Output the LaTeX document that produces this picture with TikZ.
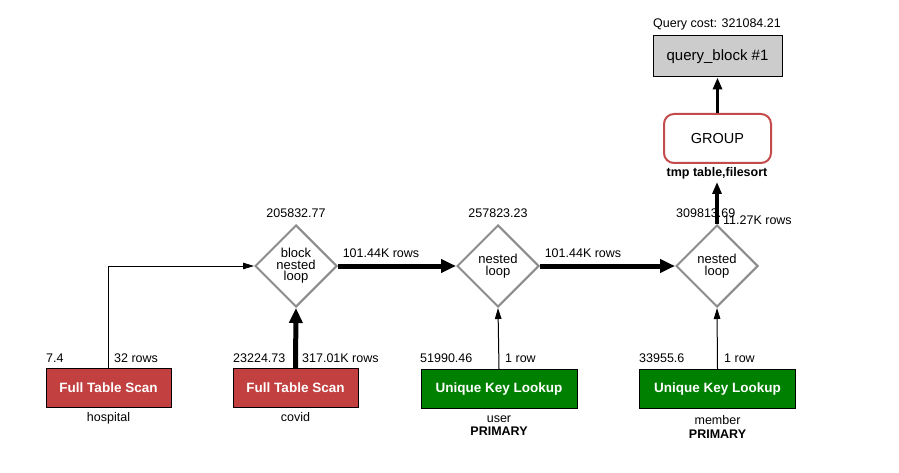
\documentclass[tikz,border=0pt]{standalone}
\usepackage{fontspec}
\setmainfont{Liberation Sans}
\usetikzlibrary{shapes.geometric,arrows.meta}
\definecolor{scanred}{HTML}{C24040}
\definecolor{keygreen}{HTML}{008000}
\definecolor{diagray}{HTML}{8C8C8C}
\definecolor{qbgray}{HTML}{CCCCCC}
\definecolor{grpred}{HTML}{C44B4B}
\begin{document}
\begin{tikzpicture}[x=1pt,y=-1pt,
  lbl/.style={font=\fontsize{12.5}{14}\selectfont, inner sep=0pt},
  blbl/.style={font=\fontsize{12.5}{14}\selectfont\bfseries, inner sep=0pt},
  op/.style={draw=black, line width=1pt, font=\fontsize{13.5}{16}\selectfont\bfseries, text=white, minimum height=39, inner sep=0pt},
  scan/.style={op, fill=scanred, minimum width=125},
  ukl/.style={op, fill=keygreen, minimum width=156},
  dia/.style={diamond, draw=diagray, line width=2pt, minimum width=82, minimum height=82, inner sep=0pt, align=center, font=\fontsize{13}{11.5}\selectfont},
  thinarr/.style={line width=1pt, -{Triangle[length=11pt,width=6.5pt]}},
  thickarr/.style={line width=5pt, -{Triangle[length=15pt,width=13pt]}},
  midarr/.style={line width=3.5pt, -{Triangle[length=12pt,width=9pt]}}
]
\useasboundingbox[fill=white] (0,0) rectangle (899,473);

% top
\node[lbl, anchor=base] (cost) at (717,28) {Query cost: 321084.21};
\node[draw=black, line width=1pt, fill=qbgray, minimum width=129, minimum height=41, inner sep=0pt, font=\fontsize{15}{17}\selectfont] (qb) at (717.5,56.5) {query\_block \#1};
\node[draw=grpred, line width=2pt, rounded corners=10pt, fill=white, minimum width=107, minimum height=49, inner sep=0pt, font=\fontsize{14.5}{17}\selectfont] (grp) at (717.5,138.5) {GROUP};
\node[blbl, anchor=base] (tmp) at (717,177) {tmp table,filesort};
\coordinate (grpin) at (717,182);

% diamonds
\node[dia] (d1) at (296,266) {block\\nested\\loop};
\node[dia] (d2) at (498,266) {nested\\loop};
\node[dia] (d3) at (717,266) {nested\\loop};
\node[lbl, anchor=base] (c1) at (296,218) {205832.77};
\node[lbl, anchor=base] (c2) at (498,218) {257823.23};
\node[lbl, anchor=base west] (c3) at (676,218) {309813.69};

% boxes
\node[scan] (hosp) at (108.5,388) {Full Table Scan};
\node[scan] (cov) at (295.5,388) {Full Table Scan};
\node[ukl] (usr) at (499,389) {Unique Key Lookup};
\node[ukl] (mem) at (717.5,389) {Unique Key Lookup};

\node[lbl, anchor=base west] (hc) at (46,362.5) {7.4};
\node[lbl, anchor=base west] (hr) at (114,362.5) {32 rows};
\node[lbl, anchor=base] (hn) at (108.5,421) {hospital};

\node[lbl, anchor=base west] (cc) at (233,362.5) {23224.73};
\node[lbl, anchor=base west] (cr) at (302,362.5) {317.01K rows};
\node[lbl, anchor=base] (cn) at (295.5,421) {covid};

\node[lbl, anchor=base west] (uc) at (420,362.5) {51990.46};
\node[lbl, anchor=base west] (ur) at (505,362.5) {1 row};
\node[lbl, anchor=base] (un) at (499,422) {user};
\node[blbl, anchor=base] (uk) at (499,435) {PRIMARY};

\node[lbl, anchor=base west] (mc) at (639,362.5) {33955.6};
\node[lbl, anchor=base west] (mr) at (724,362.5) {1 row};
\node[lbl, anchor=base] (mn) at (717.5,424) {member};
\node[blbl, anchor=base] (mk) at (717.5,438) {PRIMARY};

% connectors
\draw[thinarr] (hosp.north) |- (d1.west);
\draw[thickarr] (cov.north) -- (d1.south);
\draw[thinarr] (usr.north) -- (d2.south);
\draw[thinarr] (mem.north) -- (d3.south);
\draw[thickarr] (d1.east) -- (d2.west);
\draw[thickarr] (d2.east) -- (d3.west);
\draw[midarr] (d3.north) -- (grpin);
\draw[midarr] (grp.north) -- (qb.south);

\node[lbl, anchor=base] (r1) at (381,257) {101.44K rows};
\node[lbl, anchor=base] (r2) at (583,257) {101.44K rows};
\node[lbl, anchor=base west] (r3) at (723,225) {11.27K rows};
\end{tikzpicture}
\end{document}
